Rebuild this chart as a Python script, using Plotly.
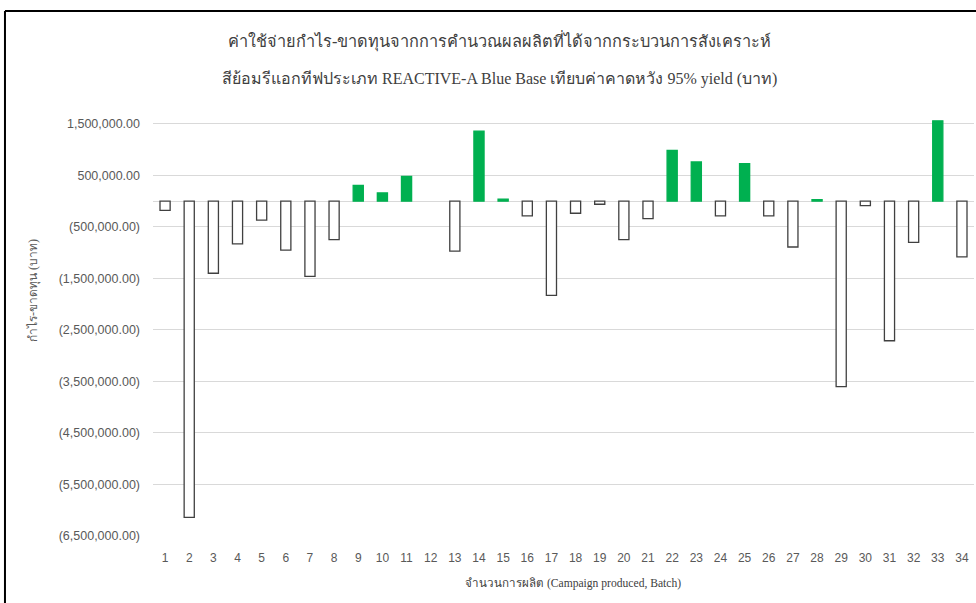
import plotly.graph_objects as go

batches = [str(i) for i in range(1, 35)]
profit = [
    -180000, -6140000, -1400000, -830000, -370000, -950000, -1460000, -745000,
    305000, 160000, 480000, 0, -970000, 1360000, 40000, -285000, -1830000,
    -235000, -60000, -745000, -340000, 985000, 760000, -285000, 730000,
    -285000, -890000, 30000, -3600000, -85000, -2710000, -800000, 1560000,
    -1080000,
]
tick_vals = [-6500000, -5500000, -4500000, -3500000, -2500000, -1500000, -500000, 500000, 1500000]
tick_text = ["(6,500,000.00)", "(5,500,000.00)", "(4,500,000.00)", "(3,500,000.00)",
             "(2,500,000.00)", "(1,500,000.00)", "(500,000.00)", "500,000.00", "1,500,000.00"]

title_1 = "ค่าใช้จ่ายกำไร-ขาดทุนจากการคำนวณผลผลิตที่ได้จากกระบวนการสังเคราะห์"
title_2 = "สีย้อมรีแอกทีฟประเภท REACTIVE-A Blue Base เทียบค่าคาดหวัง 95% yield (บาท)"
y_title = "กำไร-ขาดทุน (บาท)"
x_title = "จำนวนการผลิต (Campaign produced, Batch)"

GREEN = "#00B050"
fill = [GREEN if v > 0 else "white" for v in profit]
edge = [GREEN if v > 0 else ("#404040" if v < 0 else "rgba(0,0,0,0)") for v in profit]

fig = go.Figure(go.Bar(
    x=batches, y=profit,
    marker=dict(color=fill, line=dict(color=edge, width=1.3)),
    width=0.42,
))

FONT = "Liberation Sans, Noto Sans, DejaVu Sans, sans-serif"
SERIF = "Liberation Serif, DejaVu Serif, Noto Sans, serif"

fig.update_layout(
    width=976, height=603,
    margin=dict(l=153, r=2, t=111, b=67),
    paper_bgcolor="white", plot_bgcolor="white",
    showlegend=False,
    font=dict(family=FONT, color="#595959", size=11),
    xaxis=dict(
        type="category", showgrid=False, zeroline=False, showline=False,
        ticks="", ticklabelstandoff=13,
        tickfont=dict(size=12, color="#595959"),
    ),
    yaxis=dict(
        range=[-6500000, 1750000],
        tickvals=tick_vals, ticktext=tick_text,
        showgrid=True, gridcolor="#D9D9D9", gridwidth=1,
        zeroline=True, zerolinecolor="#D9D9D9", zerolinewidth=1,
        showline=False, ticks="", ticklabelstandoff=12,
        tickfont=dict(size=12.5, color="#595959"),
    ),
    annotations=[
        dict(text=title_1, xref="paper", yref="paper", x=0.4226, y=1.1647,
             showarrow=False, xanchor="center", yanchor="middle",
             font=dict(family=SERIF, size=16.3, color="#404040")),
        dict(text=title_2, xref="paper", yref="paper", x=0.4226, y=1.0753,
             showarrow=False, xanchor="center", yanchor="middle",
             font=dict(family=SERIF, size=16, color="#404040")),
        dict(text=y_title, xref="paper", yref="paper", x=-0.1462, y=0.5788,
             showarrow=False, xanchor="center", yanchor="middle", textangle=-90,
             font=dict(family=SERIF, size=12, color="#595959")),
        dict(text=x_title, xref="paper", yref="paper", x=0.5115, y=-0.1106,
             showarrow=False, xanchor="center", yanchor="middle",
             font=dict(family=SERIF, size=11.6, color="#404040")),
    ],
    shapes=[
        dict(type="line", xref="paper", yref="paper", x0=-0.1803, x1=1.03,
             y0=1.2353, y1=1.2353, line=dict(color="black", width=2)),
        dict(type="line", xref="paper", yref="paper", x0=-0.1803, x1=-0.1803,
             y0=1.2353, y1=-0.2, line=dict(color="black", width=2)),
    ],
)

fig.write_html("out.html")
